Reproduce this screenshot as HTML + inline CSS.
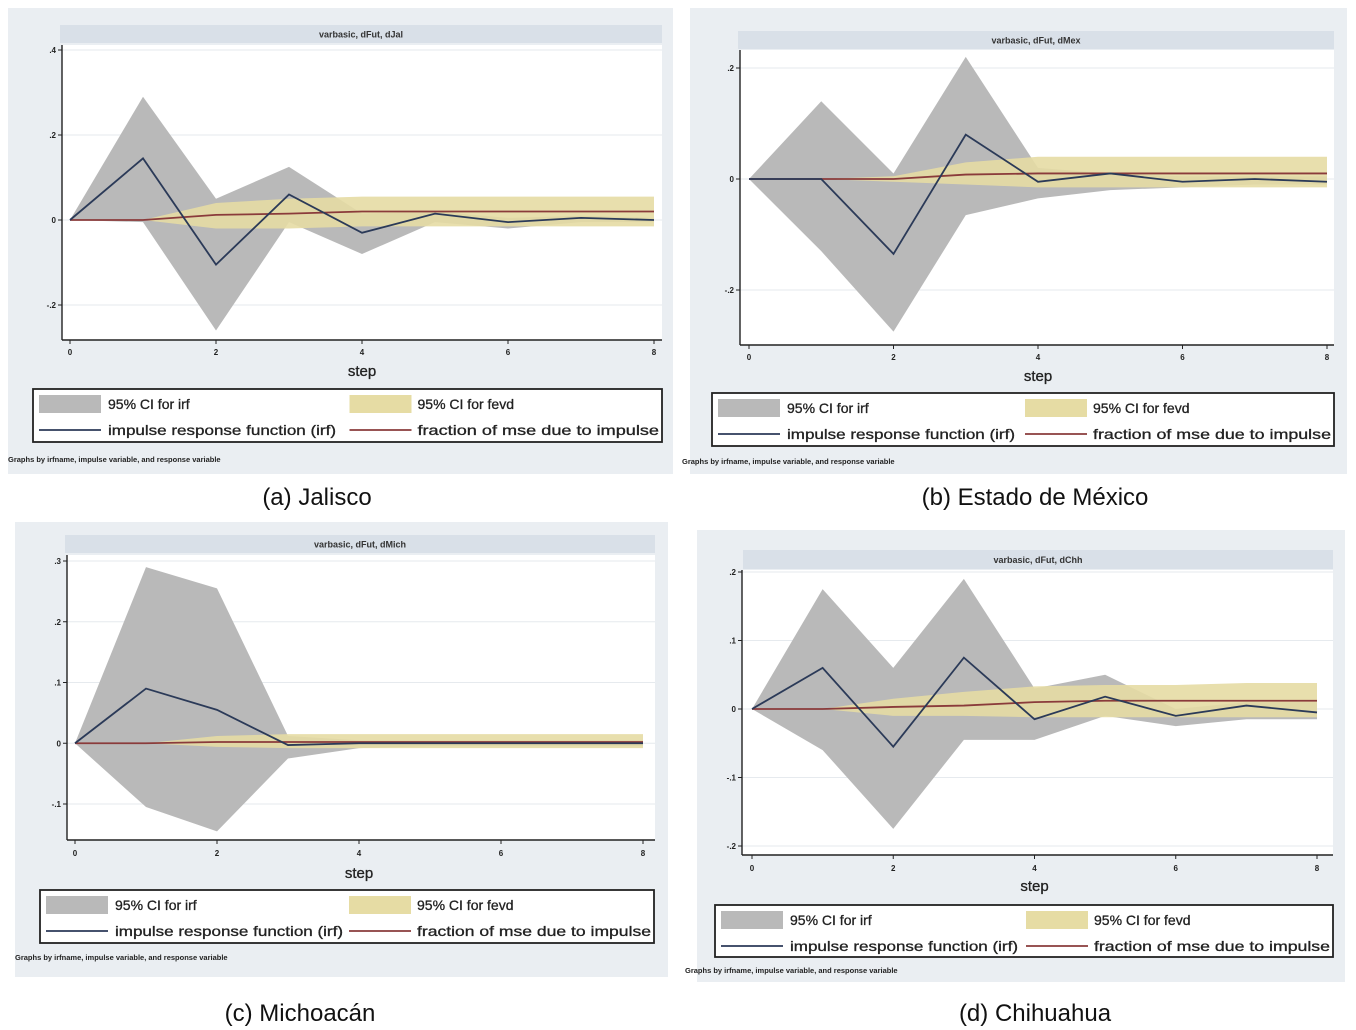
<!DOCTYPE html>
<html><head><meta charset="utf-8">
<style>
html,body{margin:0;padding:0;background:#fff;}
svg{display:block;font-family:"Liberation Sans",Arial,sans-serif;}
</style></head>
<body>
<svg id="fig" width="1356" height="1030" viewBox="0 0 1356 1030" xmlns="http://www.w3.org/2000/svg"></svg>
<script>
// ---- data (steps 0..8) ----
const steps = [0,1,2,3,4,5,6,7,8];
const xTicks = [0,2,4,6,8];

const jalIrf   = [0, .145, -.105, .06, -.03, .015, -.005, .005, 0];
const jalIrfUp = [0, .29, .05, .125, .015, .02, .005, .01, .005];
const jalIrfLo = [0, -.005, -.26, -.005, -.08, -.005, -.02, -.005, -.005];
const jalFev   = [0, 0, .012, .015, .02, .02, .02, .02, .02];
const jalFevUp = [0, 0, .04, .05, .055, .055, .055, .055, .055];
const jalFevLo = [0, 0, -.02, -.02, -.015, -.015, -.015, -.015, -.015];
const jalTicks = [.4, .2, 0, -.2];
const jalTickLabels = [".4", ".2", "0", "-.2"];

const mexIrf   = [0, 0, -.135, .08, -.005, .01, -.005, 0, -.005];
const mexIrfUp = [0, .14, .01, .22, .02, .01, .005, .005, .005];
const mexIrfLo = [0, -.13, -.275, -.065, -.035, -.02, -.015, -.01, -.01];
const mexFev   = [0, 0, 0, .008, .01, .01, .01, .01, .01];
const mexFevUp = [0, 0, .005, .03, .04, .04, .04, .04, .04];
const mexFevLo = [0, 0, -.005, -.01, -.015, -.015, -.015, -.015, -.015];
const mexTicks = [.2, 0, -.2];
const mexTickLabels = [".2", "0", "-.2"];

const micIrf   = [0, .09, .055, -.003, 0, 0, 0, 0, 0];
const micIrfUp = [0, .29, .255, .012, .005, .005, .005, .005, .005];
const micIrfLo = [0, -.105, -.145, -.025, -.008, -.005, -.005, -.005, -.005];
const micFev   = [0, 0, .002, .002, .002, .002, .002, .002, .002];
const micFevUp = [0, 0, .012, .015, .015, .015, .015, .015, .015];
const micFevLo = [0, 0, -.006, -.008, -.008, -.008, -.008, -.008, -.008];
const micTicks = [.3, .2, .1, 0, -.1];
const micTickLabels = [".3", ".2", ".1", "0", "-.1"];

const chhIrf   = [0, .06, -.055, .075, -.015, .018, -.01, .005, -.005];
const chhIrfUp = [0, .175, .06, .19, .03, .05, .0, .01, .01];
const chhIrfLo = [0, -.06, -.175, -.045, -.045, -.01, -.025, -.015, -.015];
const chhFev   = [0, 0, .003, .005, .01, .012, .012, .012, .012];
const chhFevUp = [0, 0, .015, .025, .033, .035, .035, .038, .038];
const chhFevLo = [0, 0, -.01, -.01, -.012, -.012, -.012, -.012, -.012];
const chhTicks = [.2, .1, 0, -.1, -.2];
const chhTickLabels = [".2", ".1", "0", "-.1", "-.2"];

const panelTitles = ["varbasic, dFut, dJal","varbasic, dFut, dMex","varbasic, dFut, dMich","varbasic, dFut, dChh"];
const captions = ["(a) Jalisco","(b) Estado de México","(c) Michoacán","(d) Chihuahua"];

const NS = "http://www.w3.org/2000/svg";
const svg = document.getElementById("fig");
function mk(tag, attrs, parent, text){
  const e = document.createElementNS(NS, tag);
  for (const k in attrs) e.setAttribute(k, attrs[k]);
  if (text !== undefined) e.textContent = text;
  (parent||svg).appendChild(e);
  return e;
}

const layouts = [
  {bx:8,by:8,bw:665,bh:466, tx:60,ty:25,tw:602,th:18, ax:62,px1:662,pyTop:45,
   v0:.4,y0:50,v1:-.2,y1:305, x0:70,x8:654, axY:340, tickY:352, stepY:376,
   lx:33,ly:389,lw:629,lh:53, footY:462, capX:317,capY:505},
  {bx:690,by:8,bw:657,bh:466, tx:738,ty:31,tw:596,th:18, ax:740,px1:1334,pyTop:50,
   v0:.2,y0:68,v1:-.2,y1:290, x0:749,x8:1327, axY:345, tickY:357, stepY:381,
   lx:712,ly:393,lw:622,lh:53, footY:464, capX:1035,capY:505},
  {bx:15,by:522,bw:653,bh:455, tx:65,ty:535,tw:590,th:18, ax:67,px1:655,pyTop:555,
   v0:.3,y0:561,v1:-.1,y1:804, x0:75,x8:643, axY:840, tickY:853, stepY:878,
   lx:40,ly:890,lw:614,lh:53, footY:960, capX:300,capY:1021},
  {bx:697,by:530,bw:648,bh:452, tx:743,ty:550,tw:590,th:19, ax:742,px1:1333,pyTop:570,
   v0:.2,y0:572,v1:-.2,y1:846, x0:752,x8:1317, axY:855, tickY:868, stepY:891,
   lx:715,ly:905,lw:618,lh:52, footY:973, capX:1035,capY:1021}
];

const datasets = [
  {irf:jalIrf,up:jalIrfUp,lo:jalIrfLo,fev:jalFev,fup:jalFevUp,flo:jalFevLo,ticks:jalTicks,labels:jalTickLabels},
  {irf:mexIrf,up:mexIrfUp,lo:mexIrfLo,fev:mexFev,fup:mexFevUp,flo:mexFevLo,ticks:mexTicks,labels:mexTickLabels},
  {irf:micIrf,up:micIrfUp,lo:micIrfLo,fev:micFev,fup:micFevUp,flo:micFevLo,ticks:micTicks,labels:micTickLabels},
  {irf:chhIrf,up:chhIrfUp,lo:chhIrfLo,fev:chhFev,fup:chhFevUp,flo:chhFevLo,ticks:chhTicks,labels:chhTickLabels}
];
const panelNames = ["jalisco","mexico","michoacan","chihuahua"];

layouts.forEach((L, i) => {
  const D = datasets[i];
  const g = mk("g", {});
  
  
  const X = s => L.x0 + (L.x8 - L.x0) * s / 8;
  const Y = v => L.y0 + (L.y1 - L.y0) * (v - L.v0) / (L.v1 - L.v0);

  const bg = mk("rect", {x:L.bx,y:L.by,width:L.bw,height:L.bh,fill:"#eaeef2"}, g);
  
  
  const tb = mk("rect", {x:L.tx,y:L.ty,width:L.tw,height:L.th,fill:"#d9e0e8"}, g);
  
  
  const tt = mk("text", {x:L.tx+L.tw/2,y:L.ty+L.th/2+3.5,"text-anchor":"middle","font-size":9,"font-weight":"bold",fill:"#333"}, g, panelTitles[i]);
  
  

  const pa = mk("rect", {x:L.ax,y:L.pyTop,width:L.px1-L.ax,height:L.axY-L.pyTop,fill:"#fff"}, g);
  
  

  D.ticks.forEach((v, k) => {
    const gl = mk("line", {x1:L.ax,x2:L.px1,y1:Y(v),y2:Y(v),stroke:"#e6eaee","stroke-width":1}, g);
    
    
    mk("line", {x1:L.ax-4,x2:L.ax,y1:Y(v),y2:Y(v),stroke:"#222"}, g);
    const tl = mk("text", {x:L.ax-6,y:Y(v)+3,"text-anchor":"end","font-size":8,"font-weight":"bold",fill:"#222"}, g, D.labels[k]);
    
    
  });

  let pts = steps.map(s => X(s)+","+Y(D.up[s])).concat(steps.slice().reverse().map(s => X(s)+","+Y(D.lo[s])));
  const ci = mk("polygon", {points:pts.join(" "),fill:"#b9b9b9"}, g);
  
  
  pts = steps.map(s => X(s)+","+Y(D.fup[s])).concat(steps.slice().reverse().map(s => X(s)+","+Y(D.flo[s])));
  const fci = mk("polygon", {points:pts.join(" "),fill:"#e6dca4","fill-opacity":0.9}, g);
  
  
  const fl = mk("polyline", {points:steps.map(s => X(s)+","+Y(D.fev[s])).join(" "),fill:"none",stroke:"#8a3b3b","stroke-width":1.8}, g);
  
  
  const il = mk("polyline", {points:steps.map(s => X(s)+","+Y(D.irf[s])).join(" "),fill:"none",stroke:"#2b3a58","stroke-width":1.8}, g);
  
  

  const ya = mk("line", {x1:L.ax,x2:L.ax,y1:L.pyTop,y2:L.axY,stroke:"#222","stroke-width":1.4}, g);
  
  
  const xa = mk("line", {x1:L.ax,x2:L.px1,y1:L.axY,y2:L.axY,stroke:"#222","stroke-width":1.4}, g);
  
  
  xTicks.forEach(s => {
    mk("line", {x1:X(s),x2:X(s),y1:L.axY,y2:L.axY+4,stroke:"#222"}, g);
    const xl = mk("text", {x:X(s),y:L.tickY+3,"text-anchor":"middle","font-size":8,"font-weight":"bold",fill:"#222"}, g, String(s));
    
    
  });
  const st = mk("text", {x:(L.x0+L.x8)/2,y:L.stepY,"text-anchor":"middle","font-size":15,fill:"#222",stroke:"#222","stroke-width":0.3}, g, "step");
  
  

  const lg = mk("g", {}, g);
  
  
  mk("rect", {x:L.lx,y:L.ly,width:L.lw,height:L.lh,fill:"#fff",stroke:"#222","stroke-width":1.8}, lg);
  const half = L.lw/2;
  const r1 = L.ly+6, r2 = L.ly+33;
  mk("rect", {x:L.lx+6,y:r1,width:62,height:18,fill:"#b9b9b9"}, lg);
  mk("rect", {x:L.lx+half+2,y:r1,width:62,height:18,fill:"#e6dca4"}, lg);
  mk("line", {x1:L.lx+6,x2:L.lx+68,y1:r2+8,y2:r2+8,stroke:"#2b3a58","stroke-width":1.8}, lg);
  mk("line", {x1:L.lx+half+2,x2:L.lx+half+64,y1:r2+8,y2:r2+8,stroke:"#8a3b3b","stroke-width":1.8}, lg);
  const e1 = mk("text", {x:L.lx+75,y:r1+14,"font-size":14,fill:"#222",stroke:"#222","stroke-width":0.3}, lg, "95% CI for irf");
  
  
  const e2 = mk("text", {x:L.lx+half+70,y:r1+14,"font-size":14,fill:"#222",stroke:"#222","stroke-width":0.3}, lg, "95% CI for fevd");
  
  
  const e3 = mk("text", {x:L.lx+75,y:r2+13,"font-size":14,fill:"#222",stroke:"#222","stroke-width":0.3,textLength:228,lengthAdjust:"spacingAndGlyphs"}, lg, "impulse response function (irf)");
  
  
  const e4 = mk("text", {x:L.lx+half+70,y:r2+13,"font-size":14,fill:"#222",stroke:"#222","stroke-width":0.3,textLength:half-73,lengthAdjust:"spacingAndGlyphs"}, lg, "fraction of mse due to impulse");
  
  

  const ft = mk("text", {x:L.lx-25+ (i%2? -5:0),y:L.footY,"font-size":7.5,"font-weight":"bold",fill:"#222"}, g, "Graphs by irfname, impulse variable, and response variable");
  
  

  const cp = mk("text", {x:L.capX,y:L.capY,"text-anchor":"middle","font-size":24,fill:"#111"}, svg, captions[i]);
  
  
});
</script>
</body></html>
